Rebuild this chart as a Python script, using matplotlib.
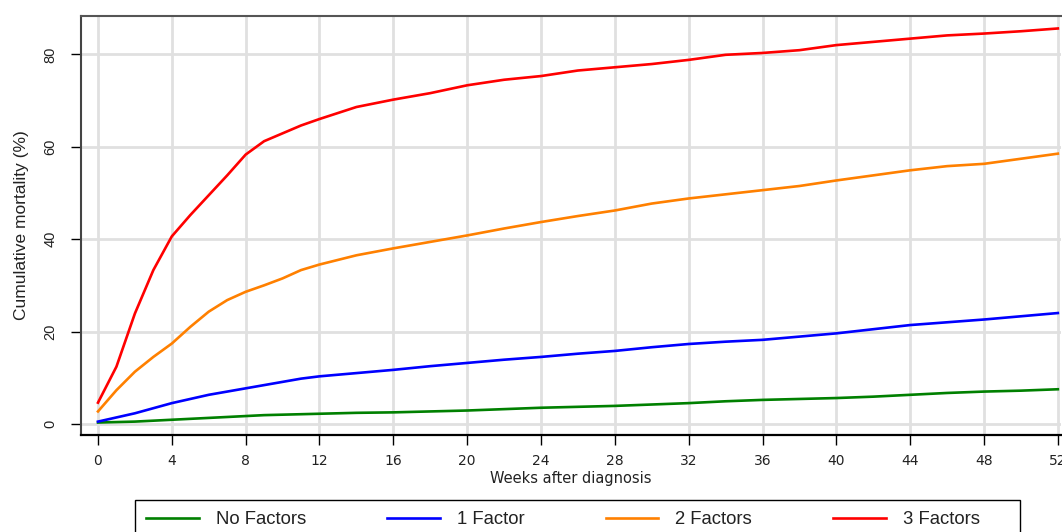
import matplotlib
matplotlib.use("Agg")
import matplotlib.pyplot as plt
from matplotlib.patches import Rectangle

weeks = [0, 1, 2, 3, 4, 5, 6, 7, 8, 9, 10, 11, 12,
         14, 16, 18, 20, 22, 24, 26, 28, 30, 32, 34, 36, 38, 40, 42, 44, 46, 48, 50, 52]

no_factors = [0.3, 0.4, 0.5, 0.7, 0.9, 1.1, 1.3, 1.5, 1.7, 1.9, 2.0, 2.1, 2.2,
              2.4, 2.5, 2.7, 2.9, 3.2, 3.5, 3.7, 3.9, 4.2, 4.5, 4.9, 5.2, 5.4, 5.6, 5.9, 6.3, 6.7, 7.0, 7.2, 7.5]
one_factor = [0.5, 1.4, 2.3, 3.4, 4.5, 5.4, 6.3, 7.0, 7.7, 8.4, 9.1, 9.8, 10.3,
              11.0, 11.7, 12.5, 13.2, 13.9, 14.5, 15.2, 15.8, 16.6, 17.3, 17.8, 18.2, 18.9, 19.6, 20.5, 21.4, 22.0, 22.6, 23.3, 24.0]
two_factors = [2.7, 7.3, 11.3, 14.5, 17.4, 21.0, 24.3, 26.8, 28.6, 30.0, 31.5, 33.3, 34.5,
               36.5, 38.0, 39.4, 40.8, 42.3, 43.7, 45.0, 46.2, 47.7, 48.8, 49.7, 50.6, 51.5, 52.7, 53.8, 54.9, 55.8, 56.3, 57.4, 58.5]
three_factors = [4.6, 12.4, 23.9, 33.3, 40.6, 45.2, 49.5, 53.8, 58.3, 61.2, 62.9, 64.6, 66.0,
                 68.6, 70.2, 71.6, 73.3, 74.5, 75.3, 76.5, 77.2, 77.9, 78.8, 79.9, 80.3, 80.9, 82.0, 82.7, 83.4, 84.1, 84.5, 85.0, 85.6]

series = [
    ("No Factors", no_factors, "#008000"),
    ("1 Factor", one_factor, "#0000ff"),
    ("2 Factors", two_factors, "#ff8000"),
    ("3 Factors", three_factors, "#ff0000"),
]

fig = plt.figure(figsize=(10.62, 5.32), dpi=100)
ax = fig.add_axes([81/1062, 1 - 435/532, (1061 - 81)/1062, (435 - 16)/532])

for name, vals, col in series:
    ax.plot(weeks, vals, color=col, lw=1.9, label=name)

ax.set_xlim(-0.92, 52.17)
ax.set_ylim(-2.4, 88.3)
ax.set_xticks(range(0, 53, 4))
ax.set_yticks([0, 20, 40, 60, 80])
ax.grid(True, color="#e0e0e0", lw=2)
ax.set_axisbelow(True)

ax.spines["right"].set_visible(False)
ax.spines["top"].set_color("#555555")
ax.spines["top"].set_linewidth(1.5)
ax.spines["left"].set_color("#444444")
ax.spines["left"].set_linewidth(1.5)
ax.spines["bottom"].set_color("black")
ax.spines["bottom"].set_linewidth(1.6)

ax.tick_params(axis="x", direction="out", length=7, width=1, pad=7, labelsize=10)
ax.tick_params(axis="y", direction="out", length=7, width=1, pad=10, labelsize=10.5)
for lab in ax.get_yticklabels():
    lab.set_rotation(90)
    lab.set_va("center")
    lab.set_family("Liberation Sans")
    lab.set_color("#222222")
for lab in ax.get_xticklabels():
    lab.set_color("#222222")

ax.set_xlabel("Weeks after diagnosis", fontsize=10.5, labelpad=2, color="#222222")
ax.set_ylabel("Cumulative mortality (%)", fontsize=12.5, labelpad=10,
              family="Liberation Sans", color="#222222")

# legend without its own frame; box drawn separately so it can be wider
leg = fig.legend(loc="upper left", bbox_to_anchor=(135/1062, 1 - 500/532),
                 ncol=4, frameon=False, borderaxespad=0,
                 prop={"family": "Liberation Sans", "size": 13.3},
                 handlelength=2.85, handletextpad=0.92, columnspacing=4.4,
                 borderpad=0.6)
for t in leg.get_texts():
    t.set_color("#222222")

# box runs off the bottom edge like the original
fig.patches.append(Rectangle((135/1062, -0.05), (1020 - 135)/1062, (0.05 + 1 - 500/532),
                             transform=fig.transFigure, fill=False,
                             edgecolor="black", lw=1.0))

fig.savefig("out.png", dpi=100)
